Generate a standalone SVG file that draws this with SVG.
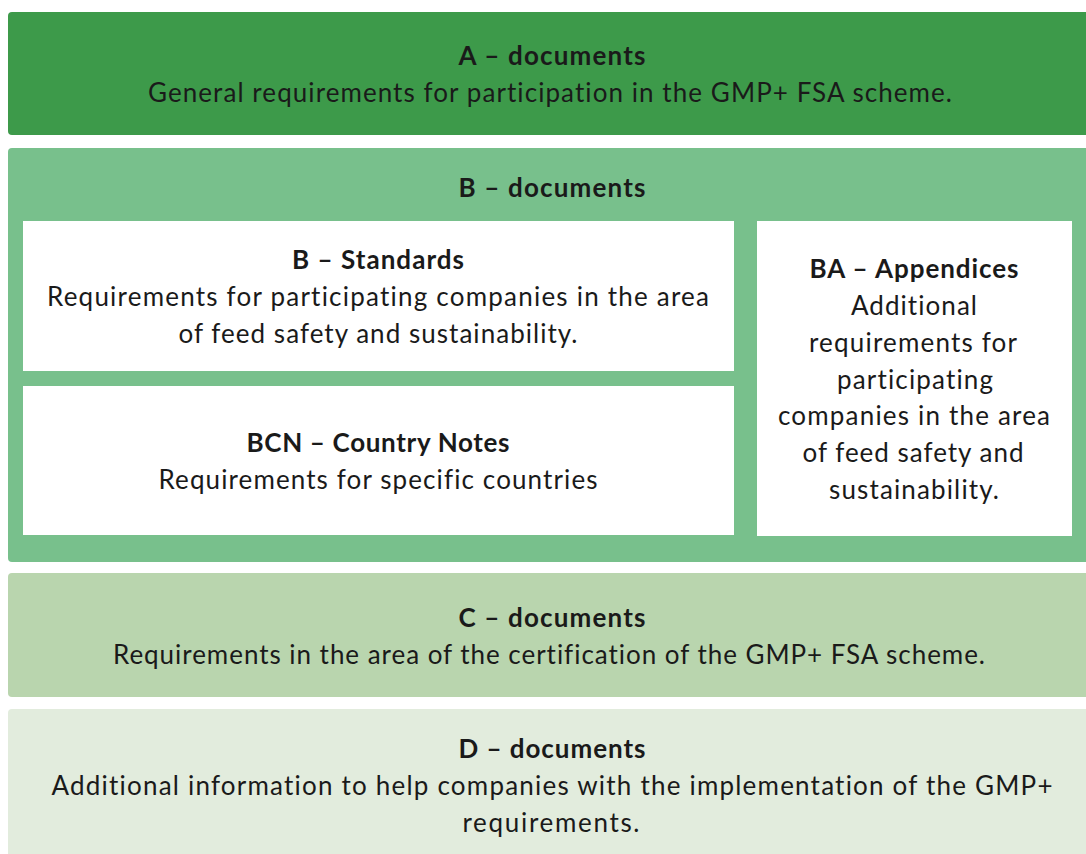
<svg xmlns="http://www.w3.org/2000/svg" width="1086" height="854" viewBox="0 0 1086 854">
<style>
text{font-family:Lato,"Open Sans","Liberation Sans",sans-serif;font-size:26px;fill:#1a1a1a;text-anchor:middle;font-variant-ligatures:none}
.t{font-weight:bold}
.w{fill:#ffffff}
</style>
<rect width="1086" height="854" fill="#ffffff"/>
<g id="A">
<rect x="8" y="12" width="1090" height="123" rx="4" fill="#3d9a4a"/>
<text class="t" x="552" y="65" textLength="187">A – documents</text>
<text x="550" y="102" textLength="804">General requirements for participation in the GMP+ FSA scheme.</text>
</g>
<g id="B">
<rect x="8" y="148" width="1090" height="414" rx="4" fill="#78c08c"/>
<text class="t" x="552" y="197" textLength="187">B – documents</text>
</g>
<g id="B-Standards">
<rect class="w" x="23" y="221" width="711" height="150"/>
<text class="t" x="378" y="269" textLength="172">B – Standards</text>
<text x="378" y="306" textLength="662">Requirements for participating companies in the area</text>
<text x="378" y="343" textLength="399">of feed safety and sustainability.</text>
</g>
<g id="BCN">
<rect class="w" x="23" y="386" width="711" height="149"/>
<text class="t" x="378" y="452" textLength="263">BCN – Country Notes</text>
<text x="378" y="489" textLength="439">Requirements for specific countries</text>
</g>
<g id="BA">
<rect class="w" x="757" y="221" width="315" height="315"/>
<text class="t" x="914" y="278" textLength="209">BA – Appendices</text>
<text x="914" y="315" textLength="126">Additional</text>
<text x="913" y="352" textLength="208">requirements for</text>
<text x="915" y="389" textLength="156">participating</text>
<text x="914" y="425" textLength="272">companies in the area</text>
<text x="913" y="462" textLength="221">of feed safety and</text>
<text x="914" y="499" textLength="170">sustainability.</text>
</g>
<g id="C">
<rect x="8" y="573" width="1090" height="124" rx="4" fill="#b9d5ae"/>
<text class="t" x="552" y="627" textLength="187">C – documents</text>
<text x="549" y="664" textLength="872">Requirements in the area of the certification of the GMP+ FSA scheme.</text>
</g>
<g id="D">
<rect x="8" y="709" width="1090" height="160" rx="4" fill="#e2ecdd"/>
<text class="t" x="552" y="758" textLength="187">D – documents</text>
<text x="552" y="795" textLength="1001">Additional information to help companies with the implementation of the GMP+</text>
<text x="551" y="832" textLength="177">requirements.</text>
</g>
<g id="connectors"/>
</svg>
